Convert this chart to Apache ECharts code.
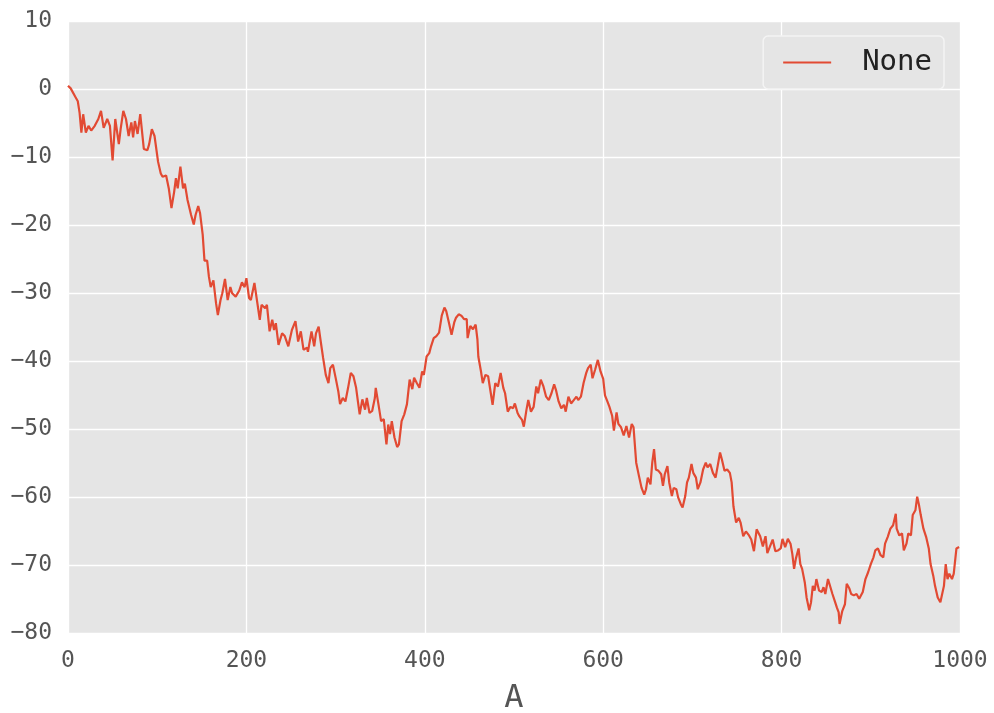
<!DOCTYPE html>
<html>
<head>
<meta charset="utf-8">
<script src="https://cdn.jsdelivr.net/npm/echarts@6/dist/echarts.min.js"></script>
<style>
html,body{margin:0;padding:0;background:#fff;}
#chart{width:994px;height:713px;}
</style>
</head>
<body>
<div id="chart"></div>
<script>
// Data (x index, cumulative value)
const seriesName = 'None';
const xAxisName = 'A';
const xTicks = [0, 200, 400, 600, 800, 1000];
const yTicks = [-80, -70, -60, -50, -40, -30, -20, -10, 0, 10];
const xs = [0,3,8,11,13,15,17,20,23,26,30,34,37,40,44,47,50,53,57,59,62,65,68,71,73,75,78,81,85,89,91,94,97,101,104,106,110,113,116,119,121,123,126,129,131,134,138,141,143,146,148,151,153,156,158,160,163,166,168,171,173,176,179,182,184,188,192,195,198,
200,203,205,209,212,215,217,221,223,226,229,231,233,236,240,243,247,251,255,258,261,264,268,269,273,276,278,281,283,286,289,292,294,297,300,303,305,308,311,314,317,320,323,325,327,330,333,335,338,341,344,345,348,351,354,357,359,361,363,366,369,371,374,377,380,383,386,388,391,394,397,399,
402,405,407,410,413,416,419,422,424,427,430,433,435,438,441,444,447,448,451,454,457,459,460,463,465,468,471,474,476,479,482,485,488,490,493,496,499,501,504,506,509,511,514,516,519,522,525,527,530,533,536,539,542,545,547,550,553,556,558,561,564,567,570,572,575,578,581,583,586,588,591,594,597,
600,602,605,607,610,612,615,617,620,623,626,629,632,634,637,640,643,646,648,650,653,655,657,659,662,665,667,669,672,674,677,679,682,684,687,689,692,694,696,699,701,704,706,709,712,715,717,720,723,726,729,731,733,736,739,742,744,746,749,752,754,757,760,763,766,769,772,774,776,779,782,784,787,790,793,
796,799,801,804,807,810,812,814,816,819,821,823,826,828,831,833,835,837,839,842,845,847,849,852,854,857,860,862,864,865,868,871,873,876,878,881,884,887,889,891,894,897,900,903,905,908,911,914,916,919,922,925,928,929,932,935,937,940,942,945,947,950,952,954,956,959,962,965,967,970,972,975,978,980,982,984,986,988,991,993,996,999];
const ys = [0.5,0.1,-1.1,-1.8,-3.5,-6.4,-3.7,-6.4,-5.4,-6.1,-5.4,-4.4,-3.2,-5.7,-4.4,-5.4,-10.5,-4.4,-8.1,-5.9,-3.2,-4.4,-6.9,-4.9,-7.1,-4.7,-6.6,-3.7,-8.8,-9.0,-8.1,-5.9,-6.9,-10.7,-12.4,-12.9,-12.7,-14.6,-17.5,-15.1,-13.1,-14.6,-11.4,-14.6,-13.9,-16.3,-18.5,-19.9,-18.5,-17.2,-18.2,-21.4,-25.2,-25.2,-27.6,-29.1,-28.1,-31.5,-33.2,-31.0,-30.0,-27.9,-31.0,-29.1,-30.0,-30.5,-29.6,-28.4,-29.1,
-27.8,-30.7,-31.0,-28.5,-31.2,-33.9,-31.7,-32.2,-31.7,-35.6,-33.9,-35.4,-34.4,-37.6,-35.9,-36.3,-37.8,-35.4,-34.1,-37.1,-35.6,-38.3,-38.0,-38.6,-35.6,-37.8,-35.9,-34.9,-36.8,-39.5,-42.0,-43.2,-41.0,-40.5,-42.4,-44.4,-46.3,-45.4,-45.9,-43.9,-41.7,-42.2,-43.9,-45.9,-47.8,-45.6,-47.1,-45.4,-47.6,-47.3,-45.4,-43.9,-46.3,-48.8,-48.5,-52.2,-49.3,-50.7,-48.8,-51.2,-52.6,-52.2,-48.8,-47.8,-46.3,-42.7,-44.1,-42.4,-43.2,-43.9,-41.5,-42.0,
-39.3,-38.8,-37.8,-36.6,-36.3,-35.8,-33.3,-32.1,-32.6,-34.3,-36.1,-34.3,-33.6,-33.1,-33.3,-33.8,-33.8,-36.6,-34.8,-35.3,-34.6,-36.8,-39.3,-41.5,-43.2,-42.0,-42.2,-44.7,-46.4,-43.2,-43.7,-41.7,-43.9,-44.7,-47.4,-46.7,-46.9,-46.2,-47.6,-48.1,-48.6,-49.6,-47.1,-45.7,-47.4,-46.7,-43.7,-44.7,-42.7,-43.7,-45.2,-45.7,-44.7,-43.4,-44.2,-45.9,-46.9,-46.4,-47.4,-45.2,-46.2,-45.7,-45.2,-45.7,-45.2,-43.2,-41.7,-41.0,-40.5,-42.5,-41.2,-39.8,-41.5,
-42.6,-45.0,-46.0,-46.7,-48.0,-50.2,-47.5,-49.2,-49.7,-50.9,-49.5,-51.2,-49.2,-49.7,-54.9,-56.8,-58.6,-59.6,-58.8,-57.1,-58.1,-54.9,-52.9,-55.9,-56.1,-56.6,-58.3,-56.6,-55.4,-57.8,-59.8,-58.6,-58.8,-60.0,-61.0,-61.5,-59.8,-57.8,-57.1,-55.1,-56.4,-57.1,-58.8,-57.8,-55.9,-54.9,-55.6,-55.1,-56.4,-57.1,-54.9,-53.4,-54.4,-56.1,-55.9,-56.4,-57.8,-61.3,-63.7,-63.0,-63.7,-65.7,-65.0,-65.5,-66.2,-67.9,-64.7,-64.5,-65.7,-67.2,-65.7,-68.2,-67.2,-66.2,-67.9,
-67.8,-67.5,-66.1,-67.3,-66.1,-66.8,-68.3,-70.5,-69.0,-67.5,-69.8,-70.5,-72.5,-74.7,-76.6,-75.4,-73.0,-73.7,-72.0,-73.7,-73.9,-73.2,-74.2,-72.0,-72.2,-74.2,-75.4,-76.2,-76.9,-78.6,-76.7,-75.7,-72.7,-73.4,-74.2,-74.4,-74.2,-74.9,-74.7,-73.9,-72.0,-71.0,-69.8,-68.8,-67.8,-67.5,-68.5,-68.8,-66.8,-65.8,-64.6,-64.1,-62.4,-64.6,-65.6,-65.3,-67.8,-66.8,-65.3,-65.6,-62.6,-61.9,-59.9,-61.1,-62.6,-64.6,-65.8,-67.5,-69.8,-71.5,-73.0,-74.7,-75.4,-75.2,-73.0,-69.8,-72.0,-71.2,-72.0,-71.2,-67.5,-67.3];

const points = xs.map((x, i) => [x, ys[i]]);
const FONT = 'DejaVu Sans Mono';
const fmt = v => String(v).replace('-', '\u2212');

const chart = echarts.init(document.getElementById('chart'), null, {renderer: 'canvas'});
chart.setOption({
  animation: false,
  backgroundColor: '#ffffff',
  grid: {left: 68, top: 21, right: 34, bottom: 79.5, show: true, backgroundColor: '#E5E5E5', borderWidth: 0, containLabel: false, outerBoundsMode: 'none'},
  xAxis: {
    type: 'value', min: xTicks[0], max: xTicks[xTicks.length - 1], interval: xTicks[1] - xTicks[0],
    name: xAxisName, nameLocation: 'middle', nameGap: 49,
    nameTextStyle: {fontFamily: FONT, fontSize: 32, color: '#555555'},
    axisLine: {show: false}, axisTick: {show: false},
    axisLabel: {fontFamily: FONT, fontSize: 23, color: '#555555', margin: 16, formatter: fmt},
    splitLine: {show: true, lineStyle: {color: '#ffffff', width: 1.3}}
  },
  yAxis: {
    type: 'value', min: yTicks[0], max: yTicks[yTicks.length - 1], interval: yTicks[1] - yTicks[0],
    axisLine: {show: false}, axisTick: {show: false},
    axisLabel: {fontFamily: FONT, fontSize: 23, color: '#555555', margin: 16, formatter: fmt},
    splitLine: {show: true, lineStyle: {color: '#ffffff', width: 1.3}}
  },
  legend: {
    show: true, right: 50, top: 36,
    data: [{name: seriesName, icon: 'rect'}],
    itemWidth: 48, itemHeight: 2,
    padding: [12, 12, 12, 20],
    backgroundColor: '#E5E5E5', borderColor: '#f4f4f4', borderWidth: 1.5, borderRadius: 5,
    itemStyle: {color: '#E24A33'},
    textStyle: {fontFamily: FONT, fontSize: 29, color: '#222222', padding: [0, 0, 0, 26]}
  },
  series: [{
    name: seriesName, type: 'line', data: points, symbol: 'none', showSymbol: false,
    lineStyle: {color: '#E24A33', width: 2.2}, itemStyle: {color: '#E24A33'}
  }]
});
</script>
</body>
</html>
